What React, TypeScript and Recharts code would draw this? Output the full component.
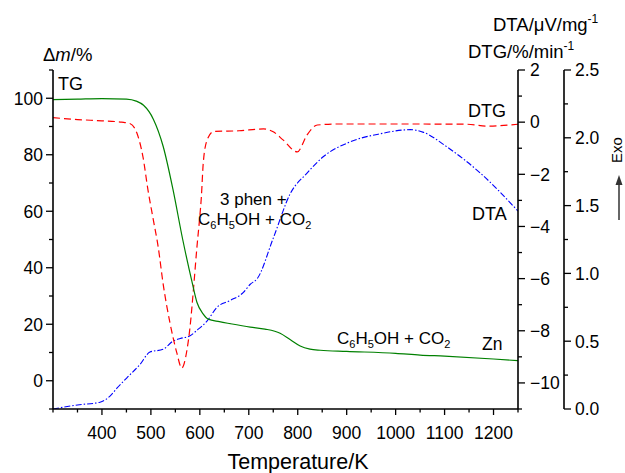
import React from "react";
import { LineChart, Line, XAxis, YAxis } from "recharts";

// Temperature / K
const tgTemp = [300, 350, 400, 450, 470, 485, 505, 525, 545, 565, 584, 594, 607, 617, 640, 662, 703, 733, 764, 785, 805, 825, 846, 900, 1000, 1050, 1100, 1200, 1250];
// Δm / %
const tgMass = [99.5, 99.7, 99.9, 99.7, 99.0, 97.5, 92.6, 83, 67.8, 50, 35, 27.8, 23.6, 21.8, 20.9, 20.2, 19.0, 18.3, 16.8, 14.5, 12.3, 11.2, 10.8, 10.4, 9.7, 9.1, 8.7, 7.7, 7.1];

const dtgTemp = [300, 350, 400, 440, 457, 471, 484, 494, 505, 515, 525, 539, 553, 563, 574, 580, 587, 594, 600, 603, 607, 615, 628, 680, 730, 750, 770, 799, 819, 840, 887, 1000, 1146, 1187, 1250];
// DTG / %/min
const dtgValue = [0.17, 0.1, 0.05, 0.0, -0.05, -0.4, -1.35, -2.6, -3.75, -4.8, -6.2, -7.7, -8.85, -9.43, -8.7, -7.85, -6.4, -4.8, -3.6, -2.9, -1.56, -0.68, -0.36, -0.33, -0.26, -0.37, -0.68, -1.14, -0.49, -0.11, -0.07, -0.07, -0.08, -0.15, -0.08];

const dtaTemp = [300, 350, 396, 417, 431, 451, 478, 498, 525, 545, 560, 580, 594, 615, 635, 662, 689, 703, 717, 750, 785, 819, 852, 907, 969, 1030, 1057, 1106, 1173, 1250];
// DTA / µV/mg
const dtaValue = [0.0, 0.03, 0.05, 0.097, 0.155, 0.23, 0.33, 0.42, 0.44, 0.5, 0.52, 0.54, 0.58, 0.65, 0.75, 0.8, 0.86, 0.92, 0.96, 1.26, 1.59, 1.74, 1.86, 1.97, 2.03, 2.06, 2.04, 1.93, 1.74, 1.46];

const xMajor = [400, 500, 600, 700, 800, 900, 1000, 1100, 1200];
const xTicks = [300, 350, 400, 450, 500, 550, 600, 650, 700, 750, 800, 850, 900, 950, 1000, 1050, 1100, 1150, 1200, 1250];
const tgMajor = [0, 20, 40, 60, 80, 100];
const tgTicks = [-10, 0, 10, 20, 30, 40, 50, 60, 70, 80, 90, 100, 110];
const dtgMajor = [-10, -8, -6, -4, -2, 0, 2];
const dtgTicks = [-11, -10, -9, -8, -7, -6, -5, -4, -3, -2, -1, 0, 1, 2];
const dtaMajor = [0, 0.5, 1, 1.5, 2, 2.5];
const dtaTicks = [0, 0.25, 0.5, 0.75, 1, 1.25, 1.5, 1.75, 2, 2.25, 2.5];

const tgData = tgTemp.map((t, i) => ({ t, v: tgMass[i] }));
const dtgData = dtgTemp.map((t, i) => ({ t, v: dtgValue[i] }));
const dtaData = dtaTemp.map((t, i) => ({ t, v: dtaValue[i] }));

const FONT = "'Liberation Sans', Arial, Helvetica, sans-serif";
const TICK_FS = 17.5;

const fmtMinus = (v: number) => (v < 0 ? "\u2212" + Math.abs(v) : String(v));

const bottomTick = (p: any) => {
  const v = p.payload.value;
  const major = xMajor.includes(v);
  return (
    <g>
      <line x1={p.x} x2={p.x} y1={p.y} y2={p.y + (major ? 6 : 3.5)} stroke="#000" strokeWidth={1.3} />
      {major && (
        <text x={p.x} y={p.y + 30} textAnchor="middle" fontFamily={FONT} fontSize={TICK_FS} fill="#000">
          {v}
        </text>
      )}
    </g>
  );
};

const leftTick = (p: any) => {
  const v = p.payload.value;
  const major = tgMajor.includes(v);
  return (
    <g>
      <line x1={p.x} x2={p.x - (major ? 7 : 4)} y1={p.y} y2={p.y} stroke="#000" strokeWidth={1.3} />
      {major && (
        <text x={p.x - 10} y={p.y} dy="0.36em" textAnchor="end" fontFamily={FONT} fontSize={TICK_FS} fill="#000">
          {v}
        </text>
      )}
    </g>
  );
};

const dtgTick = (p: any) => {
  const v = p.payload.value;
  const major = dtgMajor.includes(v);
  return (
    <g>
      <line x1={p.x} x2={p.x + (major ? 7 : 4)} y1={p.y} y2={p.y} stroke="#000" strokeWidth={1.3} />
      {major && (
        <text x={p.x + 12} y={p.y} dy="0.36em" textAnchor="start" fontFamily={FONT} fontSize={TICK_FS} fill="#000">
          {fmtMinus(v)}
        </text>
      )}
    </g>
  );
};

const dtaTick = (p: any) => {
  const v = p.payload.value;
  const major = dtaMajor.includes(v);
  return (
    <g>
      <line x1={p.x} x2={p.x + (major ? 7 : 4)} y1={p.y} y2={p.y} stroke="#000" strokeWidth={1.3} />
      {major && (
        <text x={p.x + 11} y={p.y} dy="0.36em" textAnchor="start" fontFamily={FONT} fontSize={TICK_FS} fill="#000">
          {v.toFixed(1)}
        </text>
      )}
    </g>
  );
};

const axisLine = { stroke: "#000", strokeWidth: 1.6 };

const Formula = ({ x, y }: { x: number; y: number }) => (
  <text x={x} y={y} fontSize={17}>
    <tspan>C</tspan>
    <tspan dy={4} fontSize={11}>6</tspan>
    <tspan dy={-4}>H</tspan>
    <tspan dy={4} fontSize={11}>5</tspan>
    <tspan dy={-4}>OH + CO</tspan>
    <tspan dy={4} fontSize={11}>2</tspan>
  </text>
);

export default function App() {
  return (
    <div style={{ position: "absolute", left: 0, top: 0, width: 625, height: 473, background: "#fff" }}>
      <LineChart width={625} height={473} margin={{ top: 70, right: 0, bottom: 0, left: 0 }}>
        <XAxis
          xAxisId="bottom"
          dataKey="t"
          type="number"
          domain={[300, 1250]}
          allowDataOverflow
          ticks={xTicks}
          interval={0}
          height={64}
          tickSize={0}
          tickMargin={0}
          tickLine={false}
          axisLine={axisLine}
          tick={bottomTick}
        />
        <XAxis
          xAxisId="top"
          orientation="top"
          dataKey="t"
          type="number"
          domain={[300, 1250]}
          allowDataOverflow
          height={0}
          tick={false}
          tickLine={false}
          axisLine={axisLine}
        />
        <YAxis
          yAxisId="a0"
          orientation="left"
          type="number"
          domain={[-10, 110]}
          allowDataOverflow
          ticks={tgTicks}
          interval={0}
          width={53}
          tickSize={0}
          tickMargin={0}
          tickLine={false}
          axisLine={axisLine}
          tick={leftTick}
        />
        <YAxis
          yAxisId="a1"
          orientation="right"
          type="number"
          domain={[-11, 2]}
          allowDataOverflow
          ticks={dtgTicks}
          interval={0}
          width={46}
          tickSize={0}
          tickMargin={0}
          tickLine={false}
          axisLine={axisLine}
          tick={dtgTick}
        />
        <YAxis
          yAxisId="a2"
          orientation="right"
          type="number"
          domain={[0, 2.5]}
          allowDataOverflow
          ticks={dtaTicks}
          interval={0}
          width={61}
          tickSize={0}
          tickMargin={0}
          tickLine={false}
          axisLine={axisLine}
          tick={dtaTick}
        />
        <Line
          data={dtaData}
          dataKey="v"
          xAxisId="bottom"
          yAxisId="a2"
          type="monotone"
          stroke="#0000ff"
          strokeWidth={1.1}
          strokeDasharray="6 2 1.5 2"
          dot={false}
          activeDot={false}
          isAnimationActive={false}
        />
        <Line
          data={dtgData}
          dataKey="v"
          xAxisId="bottom"
          yAxisId="a1"
          type="monotone"
          stroke="#ff0000"
          strokeWidth={1.2}
          strokeDasharray="7 4"
          dot={false}
          activeDot={false}
          isAnimationActive={false}
        />
        <Line
          data={tgData}
          dataKey="v"
          xAxisId="bottom"
          yAxisId="a0"
          type="monotone"
          stroke="#008000"
          strokeWidth={1.2}
          dot={false}
          activeDot={false}
          isAnimationActive={false}
        />
      </LineChart>
      <svg
        width={625}
        height={473}
        style={{ position: "absolute", left: 0, top: 0, pointerEvents: "none" }}
        fontFamily={FONT}
        fill="#000"
      >
        <text x={43} y={61} fontSize={18.5}>
          <tspan>{"\u0394"}</tspan>
          <tspan fontStyle="italic">m</tspan>
          <tspan>/%</tspan>
        </text>
        <text x={493} y={31} fontSize={18.5}>
          <tspan>DTA/μV/mg</tspan>
          <tspan dy={-8} fontSize={12}>-1</tspan>
        </text>
        <text x={468} y={58} fontSize={18.5}>
          <tspan>DTG/%/min</tspan>
          <tspan dy={-8} fontSize={12}>-1</tspan>
        </text>
        <text x={298} y={469} fontSize={21.5} textAnchor="middle">
          Temperature/K
        </text>
        <text x={58} y={90} fontSize={18}>TG</text>
        <text x={468} y={117} fontSize={18}>DTG</text>
        <text x={472} y={220} fontSize={18}>DTA</text>
        <text x={482} y={350} fontSize={17.5}>Zn</text>
        <text x={220} y={205} fontSize={17}>3 phen +</text>
        <Formula x={198} y={225} />
        <Formula x={337} y={344} />
        <text x={622} y={150} fontSize={15} textAnchor="middle" transform="rotate(-90 622 150)">
          Exo
        </text>
        <line x1={619} y1={220} x2={619} y2={183} stroke="#333" strokeWidth={1.5} />
        <polygon points="615.5,185 622.5,185 619,175" fill="#333" />
      </svg>
    </div>
  );
}
